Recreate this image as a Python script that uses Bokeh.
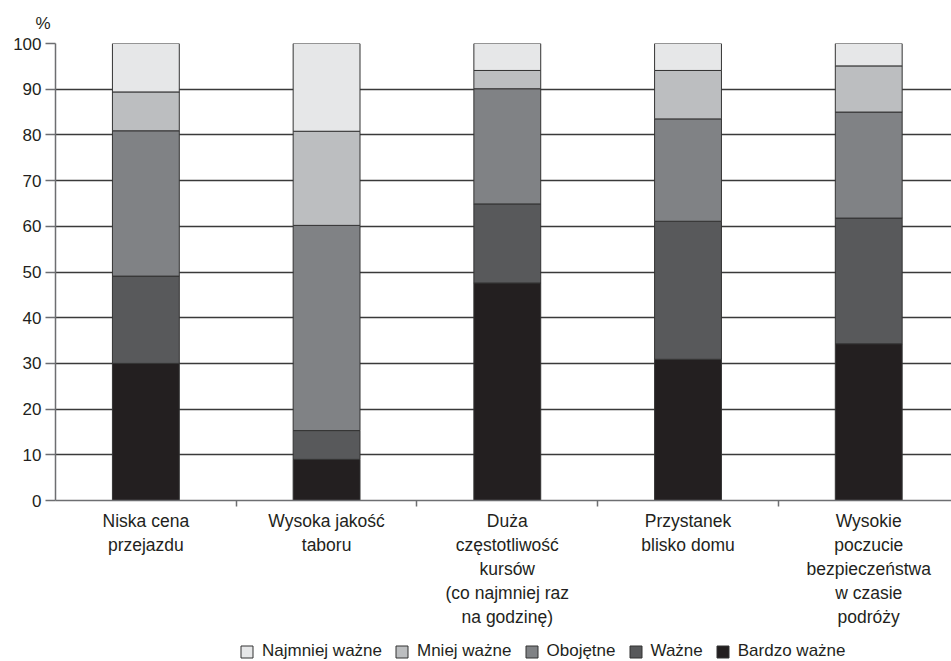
from bokeh.plotting import figure
from bokeh.layouts import column
from bokeh.models import (Range1d, FixedTicker, LinearAxis, Legend, LegendItem, Grid)
from bokeh.embed import file_html
from bokeh.resources import INLINE

# Categories (multi-line labels) and shares in percent, bottom to top of each bar
categories = [
    "Niska cena\nprzejazdu",
    "Wysoka jakość\ntaboru",
    "Duża\nczęstotliwość\nkursów\n(co najmniej raz\nna godzinę)",
    "Przystanek\nblisko domu",
    "Wysokie\npoczucie\nbezpieczeństwa\nw czasie\npodróży",
]
bardzo_wazne = [30.0, 9.0, 47.6, 30.9, 34.3]
wazne = [19.1, 6.3, 17.3, 30.2, 27.5]
obojetne = [31.8, 44.9, 25.2, 22.4, 23.2]
mniej_wazne = [8.5, 20.6, 4.0, 10.6, 10.1]
najmniej_wazne = [10.6, 19.2, 5.9, 5.9, 4.9]

series_names = ["Bardzo ważne", "Ważne", "Obojętne", "Mniej ważne", "Najmniej ważne"]
series_values = [bardzo_wazne, wazne, obojetne, mniej_wazne, najmniej_wazne]
series_colors = ["#231f20", "#58595b", "#808285", "#bcbec0", "#e6e7e8"]
y_ticks = list(range(0, 101, 10))

FONT = "Liberation Sans"
TEXT = "#231f20"
AXIS = "#6d6e71"
EDGE = "#333333"

centers = [i + 0.5 for i in range(len(categories))]
data = {"x": centers}
keys = []
for i, vals in enumerate(series_values):
    k = f"s{i}"
    keys.append(k)
    data[k] = vals

p = figure(width=951, height=630, output_backend="svg", toolbar_location=None,
           x_range=Range1d(0, 4.958), y_range=Range1d(0, 100),
           x_axis_type=None, y_axis_type=None,
           min_border_left=55, min_border_right=0, min_border_top=43, min_border_bottom=130)
p.outline_line_color = None
p.background_fill_color = "white"
p.border_fill_color = "white"

# Horizontal gridlines
grid = Grid(dimension=1, ticker=FixedTicker(ticks=y_ticks),
            grid_line_color="#3a3a3a", grid_line_width=1.3)
p.add_layout(grid)

bars = p.vbar_stack(keys, x="x", width=0.37, source=data, fill_color=series_colors,
                    line_color=EDGE, line_width=1)

# Y axis with outward ticks
yaxis = LinearAxis(ticker=FixedTicker(ticks=y_ticks))
yaxis.major_tick_out = 10
yaxis.major_tick_in = 0
yaxis.minor_tick_line_color = None
yaxis.axis_line_color = AXIS
yaxis.axis_line_width = 1.5
yaxis.major_tick_line_color = AXIS
yaxis.major_tick_line_width = 1.5
yaxis.major_label_text_font = FONT
yaxis.major_label_text_font_size = "17px"
yaxis.major_label_text_color = TEXT
yaxis.major_label_standoff = 4
p.add_layout(yaxis, "left")

# X axis: tick marks at category boundaries
xaxis = LinearAxis(ticker=FixedTicker(ticks=[1, 2, 3, 4]))
xaxis.major_label_overrides = {1: "", 2: "", 3: "", 4: ""}
xaxis.major_label_text_font_size = "1px"
xaxis.major_label_standoff = 0
xaxis.major_tick_out = 6
xaxis.major_tick_in = 0
xaxis.minor_tick_line_color = None
xaxis.axis_line_color = AXIS
xaxis.axis_line_width = 1.5
xaxis.major_tick_line_color = AXIS
xaxis.major_tick_line_width = 1.5
p.add_layout(xaxis, "below")

# Category labels centred under the bars
laxis = LinearAxis(ticker=FixedTicker(ticks=centers))
laxis.major_label_overrides = {c: lab for c, lab in zip(centers, categories)}
laxis.axis_line_color = None
laxis.major_tick_line_color = None
laxis.minor_tick_line_color = None
laxis.major_label_text_font = FONT
laxis.major_label_text_font_size = "17.5px"
laxis.major_label_text_color = TEXT
laxis.major_label_standoff = -2
p.add_layout(laxis, "below")

# Unit label above the y axis
p.title.text = "%"
p.title.align = "left"
p.title.offset = -20
p.title.standoff = 21
p.title.text_font = FONT
p.title.text_font_size = "17px"
p.title.text_font_style = "normal"
p.title.text_color = TEXT

# Legend strip along the bottom edge; swatches reuse the bar styling
leg = figure(width=951, height=31, output_backend="svg", toolbar_location=None,
             x_range=Range1d(0, 1), y_range=Range1d(0, 1),
             x_axis_type=None, y_axis_type=None,
             min_border=0, min_border_left=0, min_border_right=0,
             min_border_top=0, min_border_bottom=0)
leg.outline_line_color = None
leg.xgrid.visible = False
leg.ygrid.visible = False
swatches = [leg.rect(x=[-5], y=[-5], width=1, height=1, fill_color=c,
                     line_color=EDGE, line_width=1)
            for c in series_colors]
items = [LegendItem(label=series_names[i], renderers=[swatches[i]]) for i in range(4, -1, -1)]
legend = Legend(items=items, orientation="horizontal", location=(184, 0))
legend.label_text_font = FONT
legend.label_text_font_size = "17px"
legend.label_text_color = TEXT
legend.glyph_width = 15
legend.glyph_height = 15
legend.spacing = 12
legend.label_standoff = 8
legend.padding = 0
legend.margin = 0
legend.border_line_color = None
legend.background_fill_alpha = 0
leg.add_layout(legend, "center")

layout = column(p, leg, spacing=0)
open("out.html", "w").write(file_html(layout, INLINE))
